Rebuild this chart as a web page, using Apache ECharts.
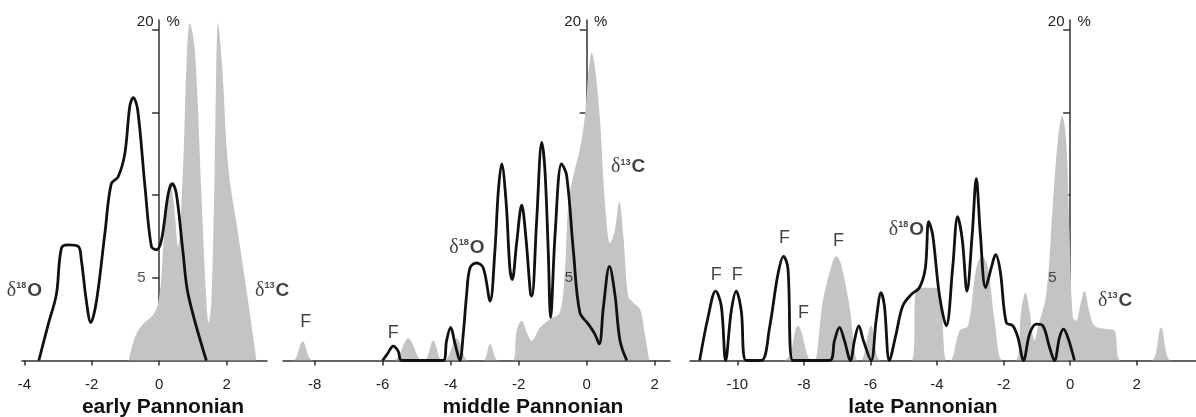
<!DOCTYPE html>
<html>
<head>
<meta charset="utf-8">
<title>Pannonian isotopes</title>
<script src="https://cdn.jsdelivr.net/npm/echarts@6/dist/echarts.min.js"></script>
<style>
html,body{margin:0;padding:0;background:#fff;}
#chart{width:1196px;height:417px;}
</style>
</head>
<body>
<div id="chart"></div>
<script>
// tick values
var earlyTicks = [-4, -2, 0, 2];
var middleTicks = [-8, -6, -4, -2, 0, 2];
var lateTicks = [-10, -8, -6, -4, -2, 0, 2];
var yTicks = [5, 10, 15, 20];
var yLabels = [5];

// early Pannonian  [delta, %]
var earlyO = [[-3.57,0],[-3.29,2.2],[-3.05,4.0],[-2.9,6.8],[-2.7,7.0],[-2.4,6.9],[-2.31,6.1],[-2.16,3.6],[-2.03,2.3],[-1.86,3.6],[-1.61,7.7],[-1.42,10.7],[-1.22,11.1],[-1.02,12.5],[-0.87,15.4],[-0.77,15.9],[-0.64,15.2],[-0.42,10.5],[-0.23,6.9],[-0.08,6.7],[0.07,7.3],[0.27,10.1],[0.39,10.7],[0.51,10.1],[0.71,6.5],[0.86,4.0],[1.40,0]];
var earlyC = [[-0.9,0],[-0.72,1.4],[-0.52,2.1],[-0.13,2.9],[0.02,4.1],[0.12,6.9],[0.22,9.3],[0.32,10.8],[0.44,9.4],[0.56,6.9],[0.71,11.7],[0.81,17.8],[0.91,20.4],[1.06,18.8],[1.26,9.7],[1.40,3.6],[1.47,2.3],[1.55,3.6],[1.65,11.7],[1.75,20.4],[1.87,17.8],[2.05,11.7],[2.34,7.7],[2.64,3.6],[2.89,0]];

// middle Pannonian
var middleO = [[-6.0,0],[-5.86,0.4],[-5.69,0.87],[-5.54,0.55],[-5.44,0],[-4.22,0],[-4.12,1.2],[-4.0,2.0],[-3.87,1.0],[-3.73,0],[-3.63,1.6],[-3.53,4.0],[-3.43,5.6],[-3.24,5.9],[-3.04,5.6],[-2.84,3.6],[-2.7,6.6],[-2.6,10.2],[-2.5,11.9],[-2.37,9.6],[-2.26,5.6],[-2.19,4.9],[-2.06,7.1],[-1.91,9.4],[-1.79,7.5],[-1.65,4.0],[-1.61,3.9],[-1.47,8.5],[-1.32,13.2],[-1.23,11.6],[-1.13,6.6],[-1.06,2.6],[-0.93,7.6],[-0.74,11.9],[-0.59,11.2],[-0.39,6.6],[-0.2,2.9],[0.05,2.2],[0.24,1.6],[0.37,1.0],[0.49,3.2],[0.67,5.7],[0.83,4.0],[0.98,1.2],[1.18,0]];
var middleC = [[-8.93,0],[-8.63,0],[-8.35,1.15],[-8.04,0],[-5.69,0],[-5.25,1.35],[-4.85,0],[-4.76,0],[-4.51,1.2],[-4.26,0],[-4.17,0],[-3.82,1.35],[-3.48,0],[-3.04,0],[-2.84,1.0],[-2.6,0],[-2.18,0],[-2.06,1.8],[-1.91,2.4],[-1.76,1.7],[-1.62,1.2],[-1.37,2.0],[-1.08,2.5],[-0.79,2.9],[-0.64,5.5],[-0.54,9.5],[-0.39,11.2],[-0.2,12.8],[-0.05,14.8],[0.05,17.4],[0.15,18.6],[0.24,17.8],[0.39,14.6],[0.54,9.5],[0.69,7.1],[0.83,7.9],[0.96,9.6],[1.08,7.5],[1.22,3.9],[1.37,3.5],[1.57,3.1],[1.71,1.6],[1.84,0]];

// late Pannonian
var lateO = [[-11.13,0],[-10.88,2.6],[-10.65,4.2],[-10.48,3.3],[-10.35,0],[-10.18,3.0],[-10.03,4.2],[-9.88,3.0],[-9.73,0],[-9.28,0],[-9.03,2.0],[-8.78,5.2],[-8.61,6.3],[-8.48,5.6],[-8.33,0],[-7.23,0],[-7.08,1.2],[-6.93,2.0],[-6.78,1.2],[-6.6,0],[-6.48,1.2],[-6.35,2.1],[-6.21,1.2],[-5.98,0],[-5.83,2.4],[-5.68,4.1],[-5.58,3.3],[-5.43,0],[-5.23,1.6],[-5.03,3.3],[-4.77,4.0],[-4.53,4.4],[-4.35,5.6],[-4.25,8.4],[-4.13,7.6],[-3.93,4.0],[-3.72,2.1],[-3.53,5.6],[-3.38,8.7],[-3.24,7.3],[-3.1,4.2],[-2.94,7.7],[-2.82,11.0],[-2.7,7.7],[-2.54,4.4],[-2.37,5.6],[-2.24,6.4],[-2.1,5.4],[-1.92,2.3],[-1.72,2.1],[-1.57,1.4],[-1.4,0],[-1.22,1.6],[-1.02,2.2],[-0.82,2.1],[-0.62,0.8],[-0.47,0],[-0.32,1.4],[-0.2,1.9],[-0.07,1.4],[0.13,0]];
var lateC = [[-11.42,0],[-8.61,0],[-8.18,2.1],[-7.78,0],[-7.68,0],[-7.43,3.6],[-7.13,6.0],[-7.03,6.3],[-6.88,5.8],[-6.63,3.3],[-6.38,0],[-6.28,0],[-5.98,2.1],[-5.68,0],[-4.77,0],[-4.58,4.4],[-4.02,4.4],[-3.71,0],[-3.6,0],[-3.32,1.8],[-3.07,2.1],[-2.82,5.6],[-2.64,6.3],[-2.47,5.6],[-2.27,2.4],[-2.02,0],[-1.64,0],[-1.47,3.0],[-1.34,4.1],[-1.22,3.0],[-1.07,1.2],[-0.97,2.0],[-0.72,4.0],[-0.52,9.5],[-0.37,13.3],[-0.24,14.8],[-0.12,13.3],[-0.02,7.6],[0.08,2.6],[0.18,2.4],[0.30,3.3],[0.43,4.2],[0.58,2.9],[0.73,2.1],[1.08,1.9],[1.33,1.8],[1.53,0],[2.43,0],[2.73,2.0],[3.03,0],[3.78,0]];

var panelNames = ['early Pannonian', 'middle Pannonian', 'late Pannonian'];

var myChart = echarts.init(document.getElementById('chart'));

var axisColor = '#333';
var font = 'Liberation Sans, Arial, sans-serif';
var richLbl = {
  d: {fontFamily: 'Liberation Serif, serif', fontSize: 20, color: '#111'},
  s: {fontFamily: font, fontSize: 9, fontWeight: 'bold', color: '#111', padding: [0, 1, 10, 0]},
  o: {fontFamily: font, fontSize: 19, fontWeight: 'bold', color: '#111'},
  f: {fontFamily: font, fontSize: 18, color: '#111'},
  n: {fontFamily: font, fontSize: 15, color: '#222'}
};
var dO = '{d|δ}{s|18}{o|O}';
var dC = '{d|δ}{s|13}{o|C}';

function xAxisOf(i, min, max, ticks) {
  return {
    gridIndex: i, type: 'value', min: min, max: max,
    axisLine: {onZero: true, lineStyle: {color: axisColor, width: 1.5}},
    axisTick: {customValues: ticks, length: 5, lineStyle: {color: axisColor, width: 1.5}},
    axisLabel: {customValues: ticks, fontSize: 15, color: '#222', margin: 17, fontFamily: font},
    splitLine: {show: false}
  };
}
function yAxisOf(i) {
  return {
    gridIndex: i, type: 'value', min: 0, max: 20.6,
    axisLine: {onZero: true, lineStyle: {color: axisColor, width: 1.5}},
    axisTick: {customValues: yTicks, length: 7, lineStyle: {color: axisColor, width: 1.5}},
    axisLabel: {show: false},
    splitLine: {show: false},
    name: '{a|20}{g| }{b|%}',
    nameLocation: 'end',
    nameGap: -2,
    nameTextStyle: {
      align: 'center', verticalAlign: 'middle',
      rich: {
        a: {width: 20, align: 'right', fontSize: 15, color: '#222', fontFamily: font},
        g: {width: 8},
        b: {width: 20, align: 'left', fontSize: 15, color: '#222', fontFamily: font}
      }
    }
  };
}
function grayArea(i, data) {
  return {
    type: 'line', xAxisIndex: i, yAxisIndex: i, data: data,
    smooth: 0.35, symbol: 'none', silent: true,
    lineStyle: {width: 0}, areaStyle: {color: '#c4c4c4', opacity: 1}, z: 1
  };
}
function blackLine(i, data) {
  return {
    type: 'line', xAxisIndex: i, yAxisIndex: i, data: data,
    smooth: 0.35, symbol: 'none', silent: true,
    lineStyle: {color: '#111', width: 2.8}, z: 3
  };
}
function labels(i, items) {
  // y-axis label "5" sits left of the axis at x = 0
  items.push({value: [0, yLabels[0]], t: '{n|' + yLabels[0] + '}',
              label: {position: 'left', distance: 13}});
  return {
    type: 'scatter', xAxisIndex: i, yAxisIndex: i, clip: false, silent: true,
    symbolSize: 1, itemStyle: {color: 'transparent'},
    label: {show: true, position: 'inside', rich: richLbl, formatter: function (p) { return p.data.t; }},
    data: items, z: 5
  };
}

var titleStyle = {fontSize: 21, fontWeight: 'bold', color: '#111', fontFamily: font};
var option = {
  animation: false,
  title: [
    {text: panelNames[0], left: 163, top: 397, textAlign: 'center', padding: 0, textStyle: titleStyle},
    {text: panelNames[1], left: 533, top: 397, textAlign: 'center', padding: 0, textStyle: titleStyle},
    {text: panelNames[2], left: 923, top: 397, textAlign: 'center', padding: 0, textStyle: titleStyle}
  ],
  grid: [
    {left: 22, width: 245, top: 20, height: 340.5},
    {left: 283, width: 387, top: 20, height: 340.5},
    {left: 690, width: 506, top: 20, height: 340.5}
  ],
  xAxis: [
    xAxisOf(0, -4.07, 3.2, earlyTicks),
    xAxisOf(1, -8.93, 2.45, middleTicks),
    xAxisOf(2, -11.42, 3.78, lateTicks)
  ],
  yAxis: [yAxisOf(0), yAxisOf(1), yAxisOf(2)],
  series: [
    grayArea(0, earlyC), blackLine(0, earlyO),
    grayArea(1, middleC), blackLine(1, middleO),
    grayArea(2, lateC), blackLine(2, lateO),
    labels(0, [{value: [-4.0, 4.24], t: dO}, {value: [3.35, 4.24], t: dC}]),
    labels(1, [{value: [-3.52, 6.85], t: dO}, {value: [1.22, 11.7], t: dC},
               {value: [-8.26, 2.32], t: '{f|F}'}, {value: [-5.69, 1.67], t: '{f|F}'}]),
    labels(2, [{value: [-4.92, 7.9], t: dO}, {value: [1.35, 3.64], t: dC},
               {value: [-10.63, 5.15], t: '{f|F}'}, {value: [-10.0, 5.15], t: '{f|F}'},
               {value: [-8.58, 7.4], t: '{f|F}'}, {value: [-8.01, 2.88], t: '{f|F}'},
               {value: [-6.96, 7.2], t: '{f|F}'}])
  ]
};
myChart.setOption(option, true);
</script>
</body>
</html>
